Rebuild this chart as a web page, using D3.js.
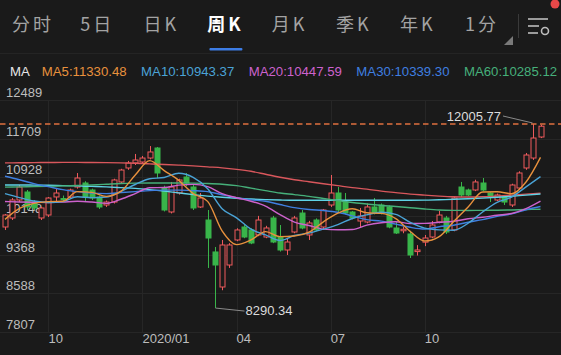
<!DOCTYPE html>
<html>
<head>
<meta charset="utf-8">
<script src="https://cdn.jsdelivr.net/npm/d3@7"></script>
<style>
  html, body { margin: 0; padding: 0; background: #1a1a1a; }
  svg { display: block; }
</style>
</head>
<body>
<svg width="561" height="355"></svg>
<script>
// tabs across the top
const tabs = ['分时', '5日', '日K', '周K', '月K', '季K', '年K', '1分'];
const activeTab = '周K';

// weekly candles (one per week, Aug 2019 .. Jan 2021)
const open  = [9926,10108,10471,10632,10431,10108,10168,10532,10500,10530,10733,10814,10673,10531,10370,10430,10835,11117,11218,11238,11318,11520,10713,10229,10612,10935,10733,10330,10067,9422,8715,9159,9664,9926,9866,9765,9724,10108,9724,9462,9825,10208,9765,10067,9926,10370,10612,10430,10229,10047,10027,10330,10370,10330,9906,9850,9785,9430,9620,9724,10027,10108,9866,10733,10673,10673,10814,10612,10471,10532,10370,10713,11117,11318,11742];
const close = [10168,10471,10733,10330,10310,10310,10511,10612,10490,10673,10915,10532,10511,10330,10430,10875,11076,11218,11278,11318,11440,11016,10269,10733,10875,10814,10310,10511,9704,9159,9563,9563,9866,9724,9603,10067,9906,9623,9462,9623,10108,9906,10007,9866,10269,10612,10269,10208,10108,10148,10330,10208,10208,9926,9805,9880,9361,9462,9704,9967,10168,9825,10511,10572,10572,10835,10673,10532,10572,10430,10774,11016,11379,11722,11960];
const high  = [10188,10511,10774,10673,10470,10330,10531,10713,10560,10700,11015,10850,10700,10560,10460,10900,11100,11260,11400,11360,11560,11540,10760,10835,10900,11015,10774,10612,10269,9523,9664,9600,9900,9966,9900,10150,9950,10150,9966,9704,10150,10269,10050,10100,10290,10976,10733,10612,10250,10310,10400,10511,10400,10360,10027,9930,9850,9560,9765,10047,10250,10150,10531,10835,10700,10880,10915,10630,10600,10560,10800,11050,11420,12005.77,11990];
const low   = [9866,10067,10430,10269,10269,10067,10128,10450,10450,10500,10700,10430,10470,10290,10330,10400,10800,11080,11177,11200,11290,10915,10240,10200,10580,10750,10269,10310,9099,8290.34,8650,9100,9640,9700,9580,9740,9700,9600,9430,9361,9800,9880,9664,9840,9866,10330,10230,10180,10080,9926,10000,10180,10180,9900,9785,9800,9300,9350,9540,9700,10000,9785,9840,10531,10550,10650,10650,10430,10450,10370,10330,10690,11080,11280,11720];

// moving averages, read every second week
const maWeeks = d3.range(0, 75, 2);
const ma5   = [10080,10300,10402,10439,10447,10640,10624,10544,10644,10975,11266,11064,10867,10600,10443,9849,9571,9664,9833,9732,9744,9821,10031,10205,10293,10213,10200,10095,9836,9642,9732,10035,10330,10633,10637,10596,10834,11330];
const ma10  = [10600,10520,10450,10420,10440,10536,10519,10531,10644,10784,10901,10925,11010,10927,10699,10295,10110,9882,9767,9654,9755,9803,9884,9975,10098,10172,10223,10182,10018,9903,9869,9861,10002,10229,10423,10530,10736,10943];
const ma20  = [10440,10430,10425,10420,10430,10445,10430,10402,10486,10600,10718,10722,10771,10786,10741,10598,10517,10446,10347,10176,10025,9956,9883,9871,9876,9963,10013,10033,9996,10000,10021,10042,10092,10124,10163,10199,10298,10448];
const ma30  = [10950,10880,10800,10740,10680,10640,10610,10600,10620,10640,10660,10670,10670,10660,10640,10577,10518,10474,10446,10379,10317,10279,10258,10223,10150,10074,10045,9983,9920,9885,9932,9962,10023,10074,10141,10190,10273,10339];
const ma60  = [10730,10735,10740,10745,10755,10765,10775,10790,10805,10812,10815,10815,10815,10812,10805,10790,10760,10710,10660,10612,10580,10545,10500,10460,10420,10390,10360,10340,10315,10290,10270,10262,10260,10262,10265,10270,10278,10285];
const ma120 = [11220,11222,11225,11228,11230,11230,11228,11225,11220,11212,11200,11188,11175,11160,11140,11120,11090,11050,10990,10930,10880,10840,10800,10760,10720,10690,10650,10620,10590,10570,10550,10535,10530,10535,10550,10570,10590,10610];
const ma250 = [10775,10775,10772,10768,10762,10755,10745,10735,10720,10705,10680,10650,10615,10580,10550,10525,10505,10490,10478,10470,10465,10465,10465,10465,10465,10465,10465,10465,10465,10468,10475,10485,10495,10508,10525,10545,10570,10592];

const legendNames  = ['MA5', 'MA10', 'MA20', 'MA30', 'MA60'];
const legendValues = ['11330.48', '10943.37', '10447.59', '10339.30', '10285.12'];

const yTicks = [12489, 11709, 10928, 10148, 9368, 8588, 7807];
const xTickWeeks  = [6, 19, 32, 45, 58];
const xTickLabels = ['10', '2020/01', '04', '07', '10'];

const maxHigh = 12005.77;
const minLow = 8290.34;

const svg = d3.select('svg');
const W = 561, H = 355;
const up = '#ef5a5c', down = '#39b54a';
const latin = 'Helvetica, "Liberation Sans", Arial, sans-serif';

svg.append('rect').attr('width', W).attr('height', H).attr('fill', '#1a1a1a');

// ---- tab bar
const tabX = d3.scalePoint().domain(tabs).range([33, 482]);
svg.append('g').selectAll('text')
  .data(tabs)
  .join('text')
  .attr('x', d => tabX(d))
  .attr('y', 31)
  .attr('text-anchor', 'middle')
  .attr('font-family', '"Noto Sans CJK SC", sans-serif')
  .attr('font-size', 18)
  .attr('letter-spacing', 3)
  .attr('font-weight', d => d === activeTab ? 700 : 400)
  .attr('fill', d => d === activeTab ? '#ffffff' : '#a3a3a3')
  .text(d => d);

svg.append('rect')
  .attr('x', tabX(activeTab) - 16).attr('y', 48)
  .attr('width', 33).attr('height', 2.5).attr('rx', 1)
  .attr('fill', '#3d7de6');

// little corner triangle on 1分
const tx = tabX('1分') + 23;
svg.append('path')
  .attr('d', `M${tx + 8},36 L${tx + 8},45 L${tx - 1},45 Z`)
  .attr('fill', '#7a7a7a');

svg.append('line')
  .attr('x1', 518.5).attr('x2', 518.5).attr('y1', 14).attr('y2', 38)
  .attr('stroke', '#3a3a3a');

// settings icon
const icon = svg.append('g').attr('stroke', '#bdbdbd').attr('stroke-width', 1.6).attr('fill', 'none');
icon.append('line').attr('x1', 528).attr('x2', 548).attr('y1', 19).attr('y2', 19);
icon.append('line').attr('x1', 528).attr('x2', 539).attr('y1', 26).attr('y2', 26);
icon.append('line').attr('x1', 528).attr('x2', 538).attr('y1', 33).attr('y2', 33);
icon.append('circle').attr('cx', 545).attr('cy', 31).attr('r', 3.5);

svg.append('circle').attr('cx', 555).attr('cy', 4).attr('r', 4.5).attr('fill', '#e84848');

svg.append('line')
  .attr('x1', 0).attr('x2', W).attr('y1', 53.5).attr('y2', 53.5)
  .attr('stroke', '#242424');

// ---- legend
const maColors = ['#e8913d', '#4aa3d6', '#cd62cd', '#3f7fe0', '#46b07a'];
const legend = svg.append('g').attr('font-family', latin).attr('font-size', 13.2);
let lx = 10;
const maLabel = legend.append('text').attr('x', lx).attr('y', 76).attr('fill', '#e6e6e6').text('MA');
lx += maLabel.node().getComputedTextLength() + 12;
legendNames.forEach((n, i) => {
  const t = legend.append('text')
    .attr('x', lx).attr('y', 76)
    .attr('fill', maColors[i])
    .text(n + ':' + legendValues[i]);
  lx += t.node().getComputedTextLength() + 14.5;
});

// ---- scales
const x = d3.scaleLinear().domain([0, 74]).range([5, 540.5]);
const y = d3.scaleLinear().domain([7807, 12489]).range([332, 100]);

// grid
const grid = svg.append('g').attr('stroke', '#262626').attr('stroke-width', 1);
grid.selectAll('.h').data(yTicks).join('line')
  .attr('x1', 0).attr('x2', W)
  .attr('y1', d => Math.round(y(d)) + 0.5).attr('y2', d => Math.round(y(d)) + 0.5);
grid.selectAll('.v').data(xTickWeeks).join('line')
  .attr('y1', 100).attr('y2', 332)
  .attr('x1', d => Math.round(x(d)) + 0.5).attr('x2', d => Math.round(x(d)) + 0.5);

// y labels
svg.append('g').selectAll('text').data(yTicks).join('text')
  .attr('x', 6).attr('y', d => y(d) - 3)
  .attr('font-family', latin).attr('font-size', 13)
  .attr('fill', '#bdbdbd')
  .text(d => d);

// x labels
svg.append('g').selectAll('text').data(xTickWeeks).join('text')
  .attr('x', d => x(d)).attr('y', 343)
  .attr('font-family', latin).attr('font-size', 13)
  .attr('fill', '#bdbdbd')
  .text((d, i) => xTickLabels[i]);

// ---- candles
const idx = d3.range(open.length);
const bw = 5;
const candles = svg.append('g');
candles.selectAll('line').data(idx).join('line')
  .attr('x1', i => Math.round(x(i)) + 0.5).attr('x2', i => Math.round(x(i)) + 0.5)
  .attr('y1', i => y(high[i])).attr('y2', i => y(low[i]))
  .attr('stroke', i => close[i] >= open[i] ? up : down)
  .attr('stroke-width', 1);
candles.selectAll('rect').data(idx).join('rect')
  .attr('x', i => Math.round(x(i)) - bw / 2 + 0.5)
  .attr('y', i => y(Math.max(open[i], close[i])))
  .attr('width', bw)
  .attr('height', i => Math.max(1, Math.abs(y(open[i]) - y(close[i]))))
  .attr('fill', i => close[i] >= open[i] ? '#1a1a1a' : down)
  .attr('stroke', i => close[i] >= open[i] ? up : down)
  .attr('stroke-width', 1);

// ---- moving average lines
const line = d3.line()
  .x((d, i) => x(maWeeks[i]))
  .y(d => y(d))
  .curve(d3.curveMonotoneX);
const maSeries = [
  [ma120, '#d9575c'],
  [ma250, '#5fd3e6'],
  [ma60, maColors[4]],
  [ma30, maColors[3]],
  [ma20, maColors[2]],
  [ma10, maColors[1]],
  [ma5, maColors[0]]
];
svg.append('g').selectAll('path').data(maSeries).join('path')
  .attr('d', d => line(d[0]))
  .attr('fill', 'none')
  .attr('stroke', d => d[1])
  .attr('stroke-width', 1.4);

// ---- max / min markers
svg.append('line')
  .attr('x1', 0).attr('x2', W)
  .attr('y1', y(maxHigh)).attr('y2', y(maxHigh))
  .attr('stroke', '#e0703f').attr('stroke-width', 1.4)
  .attr('stroke-dasharray', '5.5,3.5');

const hiX = Math.round(x(73)) + 0.5;
svg.append('path')
  .attr('d', `M503,116 L${hiX - 1},${y(maxHigh) - 1}`)
  .attr('stroke', '#8a8a8a').attr('fill', 'none');
svg.append('text')
  .attr('x', 501).attr('y', 121)
  .attr('text-anchor', 'end')
  .attr('font-family', latin).attr('font-size', 13)
  .attr('fill', '#dcdcdc')
  .text(maxHigh.toFixed(2));

const loX = Math.round(x(29)) + 0.5;
svg.append('path')
  .attr('d', `M${loX},${y(minLow)} L${loX + 29},${y(minLow) + 3}`)
  .attr('stroke', '#8a8a8a').attr('fill', 'none');
svg.append('text')
  .attr('x', loX + 30).attr('y', y(minLow) + 7)
  .attr('font-family', latin).attr('font-size', 13)
  .attr('fill', '#dcdcdc')
  .text(minLow.toFixed(2));
</script>
</body>
</html>
